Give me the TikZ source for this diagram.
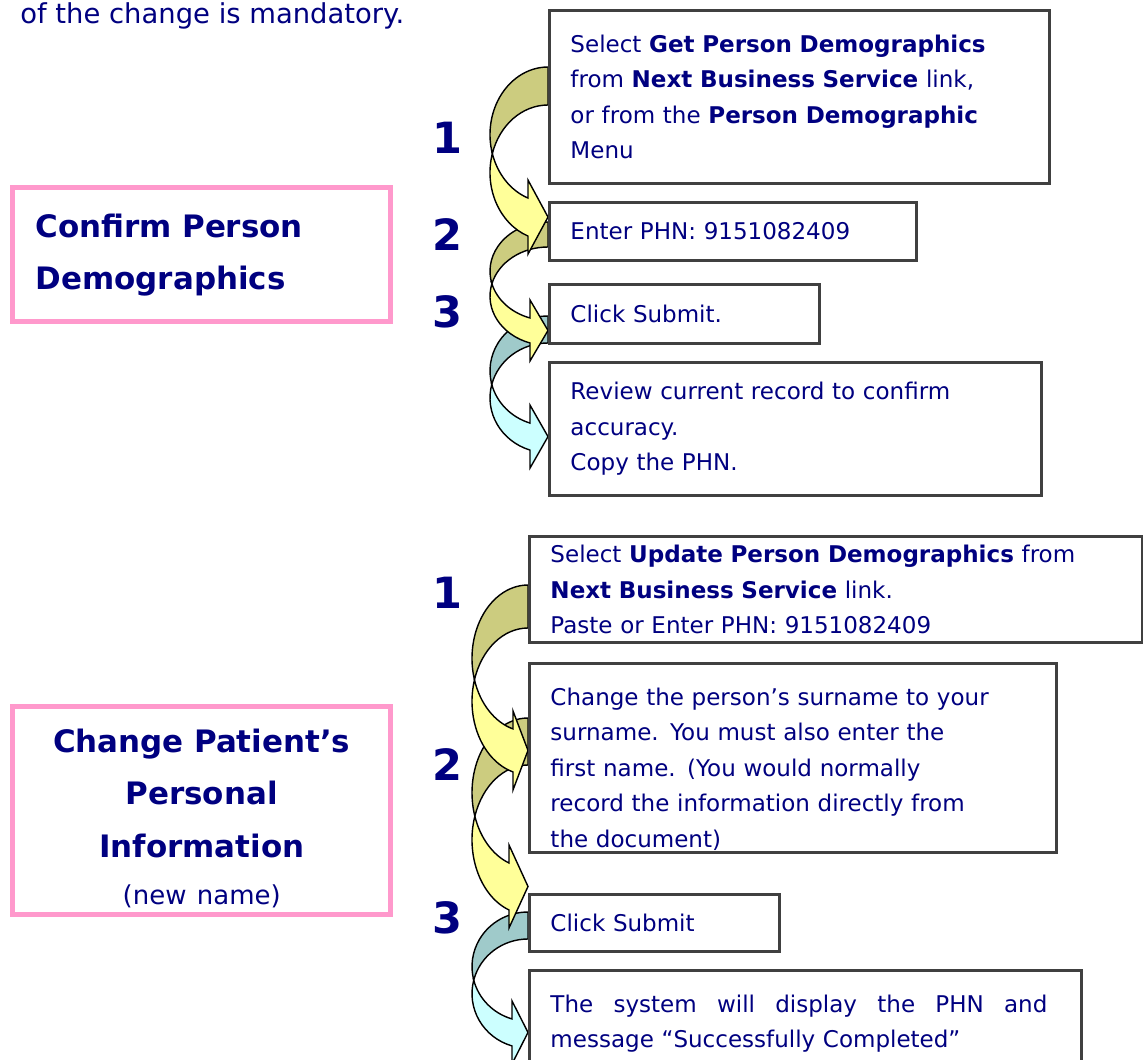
\documentclass[tikz,border=0pt]{standalone}
\usepackage{fontspec}
\setmainfont{DejaVu Sans}
\usetikzlibrary{calc}
\definecolor{navytext}{HTML}{000080}
\definecolor{boxgrey}{HTML}{404040}
\definecolor{pinkline}{HTML}{FF99CC}
\definecolor{olivepart}{HTML}{CCCC7F}
\definecolor{yellowpart}{HTML}{FFFF99}
\definecolor{tealpart}{HTML}{9FCACA}
\definecolor{cyanpart}{HTML}{CCFFFF}

% curved block arrow: back colour, front colour, tail x, tail top y,
% band width, x radius, y radius, head base x
\newcommand{\bentarrow}[8]{%
  \pgfmathsetmacro{\arrCya}{#4+#7}%
  \pgfmathsetmacro{\arrAlpha}{asin(#5/(2*#7))}%
  \pgfmathsetmacro{\arrGamma}{acos((#8-#3)/#6)}%
  \pgfmathsetmacro{\arrCrx}{#3-#6*cos(\arrAlpha)}%
  \pgfmathsetmacro{\arrCry}{\arrCya+#5/2}%
  \pgfmathsetmacro{\arrShTop}{\arrCya+#7*sin(\arrGamma)}%
  \pgfmathsetmacro{\arrShBot}{\arrShTop+#5}%
  \pgfmathsetmacro{\arrHdTop}{\arrShTop-18}%
  \pgfmathsetmacro{\arrHdBot}{\arrShBot+18}%
  \pgfmathsetmacro{\arrTipY}{\arrShTop+#5/2}%
  \pgfmathsetmacro{\arrAngA}{180-\arrAlpha}%
  \pgfmathsetmacro{\arrAngB}{180+\arrAlpha}%
  \filldraw[fill=#1, draw=black, line width=0.8pt]
    (#3,#4) arc[start angle=270, end angle=\arrAngA, x radius=#6, y radius=#7]
    arc[start angle=\arrAngB, end angle=270, x radius=#6, y radius=#7] -- cycle;
  \filldraw[fill=#2, draw=black, line width=0.8pt]
    (\arrCrx,\arrCry) arc[start angle=\arrAngB, end angle=\arrGamma, x radius=#6, y radius=#7]
    -- (#8,\arrHdBot) -- (#3,\arrTipY) -- (#8,\arrHdTop) -- (#8,\arrShTop)
    arc[start angle=\arrGamma, end angle=\arrAngA, x radius=#6, y radius=#7] -- cycle;
}

\begin{document}
\begin{tikzpicture}[
    x=0.02cm, y=-0.02cm,
    stepbox/.style={draw=boxgrey, line width=1.7pt, fill=white, anchor=north west,
      inner xsep=0.42cm, inner ysep=0pt, align=left, text=navytext,
      font=\fontsize{13.1pt}{20.2pt}\selectfont},
    titlebox/.style={draw=pinkline, line width=3.1pt, anchor=north west,
      inner xsep=0.46cm, inner ysep=0pt, text width=6.64cm, text=navytext,
      font=\fontsize{17.6pt}{29.6pt}\selectfont\bfseries},
    stepnum/.style={text=navytext, inner sep=0pt,
      font=\fontsize{24.5pt}{25pt}\selectfont\bfseries}
  ]
  \useasboundingbox (0,0) rectangle (1143,1059);

  \node[anchor=base west, inner sep=0pt, text=navytext,
    font=\fontsize{15.6pt}{18pt}\selectfont] (note) at (20,23)
    {of the change is mandatory.};

  % arrows, lowest first
  \bentarrow{tealpart}{cyanpart}{528}{912}{27}{56}{54.6}{512}
  \bentarrow{olivepart}{yellowpart}{528}{718}{47}{56}{74.7}{509}
  \bentarrow{olivepart}{yellowpart}{528}{585}{43}{56}{73.3}{513}
  \bentarrow{tealpart}{cyanpart}{548}{316}{27}{58}{54.9}{530}
  \bentarrow{olivepart}{yellowpart}{548}{222}{25}{58}{49.2}{530}
  \bentarrow{olivepart}{yellowpart}{548}{67}{38}{58}{67.6}{528}

  % confirm
  \node[titlebox, align=left, minimum height=2.68cm] (confirm) at (10,185)
    {Confirm Person\\Demographics};
  \node[stepbox, text width=9.16cm, minimum height=3.46cm] (getdemo) at (548,9)
    {Select \textbf{Get Person Demographics}\\
     from \textbf{Next Business Service} link,\\
     or from the \textbf{Person Demographic}\\
     Menu};
  \node[stepbox, text width=6.5cm, minimum height=1.16cm] (enterphn) at (548,201)
    {Enter PHN: 9151082409};
  \node[stepbox, text width=4.56cm, minimum height=1.18cm] (submita) at (548,283)
    {Click Submit.};
  \node[stepbox, text width=9.0cm, minimum height=2.66cm] (review) at (548,361)
    {Review current record to confirm\\accuracy.\\Copy the PHN.};

  % change
  \node[titlebox, align=center, minimum height=4.16cm] (change) at (10,704)
    {\rule{0pt}{0.78cm}Change Patient’s\\Personal\\Information\\[-0.1cm]
     {\mdseries\fontsize{14.8pt}{29.6pt}\selectfont (new name)}};
  \node[stepbox, text width=11.42cm, minimum height=2.12cm] (updatedemo) at (528,535)
    {Select \textbf{Update Person Demographics} from\\
     \textbf{Next Business Service} link.\\
     Paste or Enter PHN: 9151082409};
  \node[stepbox, text width=9.7cm, minimum height=3.78cm] (surname) at (528,662)
    {\rule{0pt}{0.8cm}Change the person’s surname to your\\
     surname. You must also enter the\\
     first name. (You would normally\\
     record the information directly from\\
     the document)};
  \node[stepbox, text width=4.16cm, minimum height=1.14cm] (submitb) at (528,893)
    {Click Submit};
  \node[stepbox, text width=10.2cm, minimum height=2.12cm] (display) at (528,969)
    {\hbox to 9.94cm{The\hfill system\hfill will\hfill display\hfill the\hfill PHN\hfill and}\\
     message “Successfully Completed”};

  % step numbers
  \node[stepnum] (numa1) at (447,138) {1};
  \node[stepnum] (numa2) at (447,235) {2};
  \node[stepnum] (numa3) at (447,312) {3};
  \node[stepnum] (numb1) at (447,593) {1};
  \node[stepnum] (numb2) at (447,765) {2};
  \node[stepnum] (numb3) at (447,918) {3};
\end{tikzpicture}
\end{document}
